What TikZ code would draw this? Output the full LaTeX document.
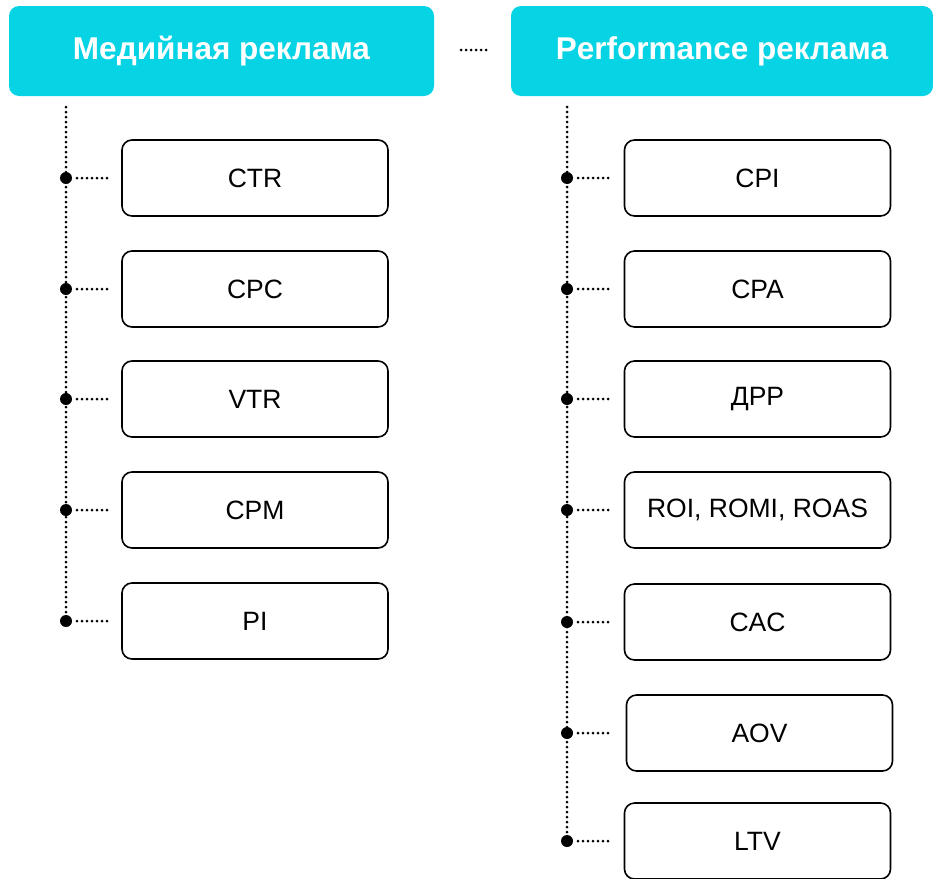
\documentclass[tikz,border=0pt]{standalone}
\usepackage{fontspec}
\setmainfont{Liberation Sans}
\definecolor{headcyan}{HTML}{06D3E4}
\tikzset{
  head/.style={fill=headcyan, rounded corners=10pt, minimum width=#1, minimum height=90pt, inner sep=0pt, text=white, font=\fontsize{31.5}{36}\selectfont\bfseries},
  metric/.style={draw=black, line width=1.6pt, rounded corners=10pt, minimum width=266pt, minimum height=76pt, inner sep=0pt, font=\fontsize{26.5}{30}\selectfont},
  dotline/.style={line width=3pt, line cap=round, dash pattern=on 0pt off 5pt},
  junction/.style={circle, fill=black, inner sep=0pt, minimum size=12pt},
}
\begin{document}
\begin{tikzpicture}[x=1pt,y=-1pt]
\useasboundingbox (0,0) rectangle (933,878);
\node[head=425pt] (h1) at (221.5,51) {Медийная реклама};
\node[head=422pt] (h2) at (722,51) {Performance реклама};
\coordinate (g1) at (461,50);
\coordinate (g2) at (487,50);
\draw[dotline] (g1) -- (g2);
% left column
\coordinate (l0) at (66,107);
\foreach \n/\t/\y in {1/CTR/178, 2/CPC/289, 3/VTR/399, 4/CPM/510, 5/PI/621}{
  \node[metric] (lb\n) at (255,\y) {\t};
  \node[junction] (lj\n) at (66,\y) {};
  \coordinate (ls\n) at (77,\y);
  \coordinate (le\n) at (107,\y);
  \draw[dotline] (ls\n) -- (le\n);
}
\draw[dotline] (l0) -- (lj5.center);
% right column
\coordinate (r0) at (567,107);
\foreach \n/\t/\y/\x in {1/CPI/178/757.5, 2/CPA/289/757.5, 3/ДРР/399/757.5, 4/{ROI, ROMI, ROAS}/510/757.5, 5/CAC/622/757.5, 6/AOV/733/759.5, 7/LTV/841/757.5}{
  \node[metric] (rb\n) at (\x,\y) {\t};
  \node[junction] (rj\n) at (567,\y) {};
  \coordinate (rs\n) at (578,\y);
  \coordinate (re\n) at (608,\y);
  \draw[dotline] (rs\n) -- (re\n);
}
\draw[dotline] (r0) -- (rj7.center);
\end{tikzpicture}
\end{document}
